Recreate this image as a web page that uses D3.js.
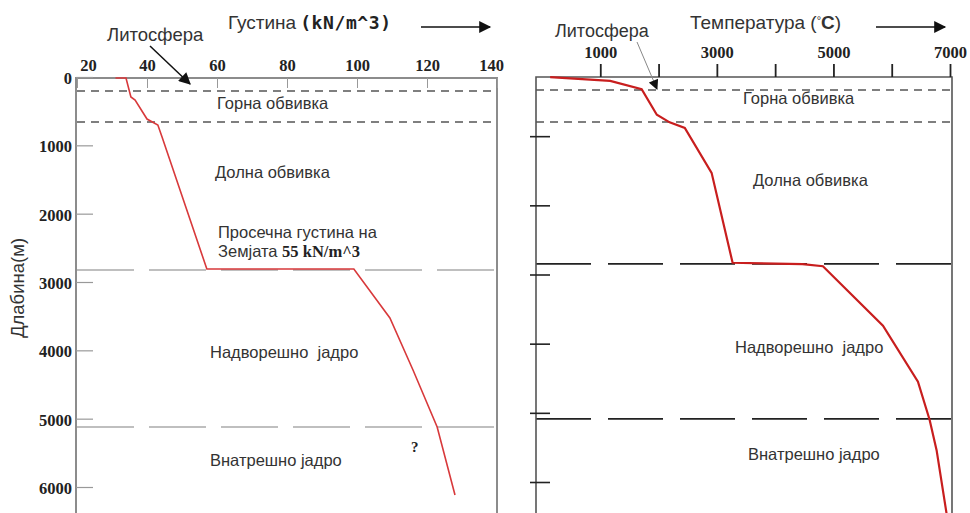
<!DOCTYPE html>
<html>
<head>
<meta charset="utf-8">
<script src="https://cdn.jsdelivr.net/npm/d3@7"></script>
<style>
  body { margin: 0; background: #fff; }
  svg { display: block; }
  .lbl { font-family: "Liberation Sans", Arial, sans-serif; fill: #333; }
  .num { font-family: "Liberation Serif", "Times New Roman", serif; font-weight: bold; fill: #222; }
</style>
</head>
<body>
<div id="vis"></div>
<script>
// density panel (kN/m^3 vs depth)
var densityValue = [31, 34, 35.4, 36.6, 40, 43.1, 44.3, 57.1, 99.1, 109.4, 116, 122.9, 128];
var densityDepth = [15, 15, 293, 337, 615, 702, 878, 2810, 2810, 3527, 4288, 5122, 6117];
var densityTicks = [20, 40, 60, 80, 100, 120, 140];
var depthTicks = [0, 1000, 2000, 3000, 4000, 5000, 6000];
var leftLayers = [205, 659, 2825, 5122];

// temperature panel (°C vs depth)
var tempValue = [140, 1170, 1710, 1970, 2190, 2450, 2910, 3270, 4470, 4820, 5850, 6450, 6650, 6770, 6940];
var tempDepth = [145, 200, 320, 690, 800, 880, 1530, 2830, 2850, 2880, 3740, 4550, 5100, 5540, 6450];
var tempTicks = [1000, 2000, 3000, 4000, 5000, 6000, 7000];
var rightDepthTicks = [1000, 2000, 3000, 4000, 5000, 6000];
var rightLayers = [332, 795, 2847, 5087];

var width = 970, height = 513;

var svg = d3.select('#vis').append('svg')
            .attr('width', width)
            .attr('height', height);

var defs = svg.append('defs');
defs.append('marker')
    .attr('id', 'head')
    .attr('viewBox', '0 0 10 10')
    .attr('refX', 9).attr('refY', 5)
    .attr('markerWidth', 11).attr('markerHeight', 10)
    .attr('markerUnits', 'userSpaceOnUse')
    .attr('orient', 'auto')
    .append('path').attr('d', 'M0,0 L10,5 L0,10 Z').attr('fill', '#111');
defs.append('marker')
    .attr('id', 'headBig')
    .attr('viewBox', '0 0 10 10')
    .attr('refX', 9).attr('refY', 5)
    .attr('markerWidth', 14).attr('markerHeight', 12)
    .attr('markerUnits', 'userSpaceOnUse')
    .attr('orient', 'auto')
    .append('path').attr('d', 'M0,0 L10,5 L0,10 Z').attr('fill', '#111');

// ---------- left panel ----------
var xL = d3.scaleLinear().domain([20, 140]).range([77, 497]);
var yL = d3.scaleLinear().domain([0, 6000]).range([77, 487]);

var left = svg.append('g');

// layer boundaries
left.selectAll('.layer')
    .data(leftLayers)
    .enter().append('line')
    .attr('x1', 77).attr('x2', 497)
    .attr('y1', (d) => yL(d)).attr('y2', (d) => yL(d))
    .attr('stroke', (d, i) => i < 2 ? '#555' : '#aaa')
    .attr('stroke-width', 1.5)
    .attr('stroke-dasharray', (d, i) => i < 2 ? '8,6' : '57,15');

// frame
left.append('path')
    .attr('d', 'M76,513 L76,78 L497,78 L497,513')
    .attr('fill', 'none')
    .attr('stroke', '#8c8c8c')
    .attr('stroke-width', 2);

var xAxisL = d3.axisTop(xL).tickValues(densityTicks).tickSize(-10).tickPadding(7);
var gxL = left.append('g').attr('transform', 'translate(0,78)').call(xAxisL);
gxL.select('.domain').remove();
gxL.selectAll('line').attr('stroke', '#999');
gxL.selectAll('text').attr('class', 'num').style('font-size', '16.5px')
   .attr('dx', (d) => d === 20 ? 11 : (d === 140 ? -6 : 0));

var yAxisL = d3.axisLeft(yL).tickValues(depthTicks).tickSize(-17).tickPadding(4)
    .tickFormat(d3.format('d'));
var gyL = left.append('g').attr('transform', 'translate(76,0)').call(yAxisL);
gyL.select('.domain').remove();
gyL.selectAll('line').attr('stroke', '#999').attr('stroke-width', 1.2);
gyL.selectAll('text').attr('class', 'num').style('font-size', '16.5px').attr('dy', '0.4em');

var lineL = d3.line()
    .x((d) => xL(d[0]))
    .y((d) => yL(d[1]));
left.append('path')
    .datum(d3.zip(densityValue, densityDepth))
    .attr('d', lineL)
    .attr('fill', 'none')
    .attr('stroke', '#d8393b')
    .attr('stroke-width', 1.6);

// texts
left.append('text').attr('class', 'lbl').attr('x', 228).attr('y', 29)
    .style('font-size', '19px').text('Густина')
  .append('tspan').attr('dx', 4)
    .style('font-family', '"DejaVu Sans Mono", monospace').style('font-weight', 'bold')
    .style('font-size', '18px').style('letter-spacing', '0.6px').style('fill', '#222')
    .text('(kN/m^3)');
left.append('line').attr('x1', 421).attr('x2', 490).attr('y1', 27).attr('y2', 27)
    .attr('stroke', '#111').attr('stroke-width', 1.5).attr('marker-end', 'url(#headBig)');

left.append('text').attr('class', 'lbl').attr('x', 107).attr('y', 41)
    .style('font-size', '18.5px').text('Литосфера');
left.append('line').attr('x1', 150).attr('y1', 46).attr('x2', 190).attr('y2', 84)
    .attr('stroke', '#111').attr('stroke-width', 1.5).attr('marker-end', 'url(#headBig)');

var lt = [
  ['Горна обвивка', 217, 109],
  ['Долна обвивка', 215, 178],
  ['Просечна густина на', 218, 238],
  ['Надворешно  јадро', 210, 358],
  ['Внатрешно јадро', 210, 466]
];
left.selectAll('.lt').data(lt).enter().append('text')
    .attr('class', 'lbl').attr('x', (d) => d[1]).attr('y', (d) => d[2])
    .style('font-size', '16.5px').attr('xml:space', 'preserve')
    .text((d) => d[0]);
var avg = left.append('text').attr('class', 'lbl').attr('x', 218).attr('y', 257).style('font-size', '16.5px');
avg.append('tspan').text('Земјата ');
avg.append('tspan').attr('class', 'num').style('font-size', '16.5px').style('fill', '#222').text('55 kN/m^3');
left.append('text').attr('class', 'num').attr('x', 411).attr('y', 452).style('font-size', '15px').text('?');

left.append('text').attr('class', 'lbl')
    .attr('transform', 'translate(24,288) rotate(-90)')
    .attr('text-anchor', 'middle')
    .style('font-size', '18.5px')
    .text('Длабина(м)');

// ---------- right panel ----------
var xR = d3.scaleLinear().domain([0, 7000]).range([542, 950]);
var yR = d3.scaleLinear().domain([0, 6000]).range([67, 482]);

var right = svg.append('g');

right.selectAll('.layer')
    .data(rightLayers)
    .enter().append('line')
    .attr('x1', 536).attr('x2', 952)
    .attr('y1', (d) => yR(d)).attr('y2', (d) => yR(d))
    .attr('stroke', (d, i) => i < 2 ? '#555' : '#222')
    .attr('stroke-width', (d, i) => i < 2 ? 1.4 : 1.8)
    .attr('stroke-dasharray', (d, i) => i < 2 ? '8,6' : '55,17');

right.append('path')
    .attr('d', 'M536,513 L536,77 L952,77 L952,513')
    .attr('fill', 'none')
    .attr('stroke', '#555')
    .attr('stroke-width', 1.6);

var xAxisR = d3.axisTop(xR).tickValues(tempTicks).tickSize(13).tickPadding(6)
    .tickFormat((d) => (d / 1000) % 2 === 1 ? d : '');
var gxR = right.append('g').attr('transform', 'translate(0,77)').call(xAxisR);
gxR.select('.domain').remove();
gxR.selectAll('line').attr('stroke', '#222').attr('stroke-width', 1.8);
gxR.selectAll('text').attr('class', 'num').style('font-size', '16.5px');

var yAxisR = d3.axisLeft(yR).tickValues(rightDepthTicks).tickSize(-20).tickFormat('');
var gyR = right.append('g').attr('transform', 'translate(530,0)').call(yAxisR);
gyR.select('.domain').remove();
gyR.selectAll('line').attr('stroke', '#222').attr('stroke-width', 1.6);

var lineR = d3.line()
    .x((d) => xR(d[0]))
    .y((d) => yR(d[1]));
right.append('path')
    .datum(d3.zip(tempValue, tempDepth))
    .attr('d', lineR)
    .attr('fill', 'none')
    .attr('stroke', '#c81e1e')
    .attr('stroke-width', 2.2);

var tt = right.append('text').attr('class', 'lbl').attr('x', 690).attr('y', 29).style('font-size', '19px');
tt.append('tspan').text('Температура (');
tt.append('tspan').attr('dy', -5).style('font-size', '11px').text('°');
tt.append('tspan').attr('dy', 5).style('font-weight', 'bold').text('C');
tt.append('tspan').text(')');
right.append('line').attr('x1', 876).attr('x2', 945).attr('y1', 27).attr('y2', 27)
    .attr('stroke', '#111').attr('stroke-width', 1.5).attr('marker-end', 'url(#headBig)');

right.append('text').attr('class', 'lbl').attr('x', 555).attr('y', 37)
    .style('font-size', '18px').text('Литосфера');
right.append('line').attr('x1', 637).attr('y1', 42).attr('x2', 657).attr('y2', 89)
    .attr('stroke', '#888').attr('stroke-width', 1).attr('marker-end', 'url(#head)');

var rt = [
  ['Горна обвивка', 743, 104],
  ['Долна обвивка', 753, 186],
  ['Надворешно  јадро', 735, 353],
  ['Внатрешно јадро', 748, 460]
];
right.selectAll('.rt').data(rt).enter().append('text')
    .attr('class', 'lbl').attr('x', (d) => d[1]).attr('y', (d) => d[2])
    .style('font-size', '16.5px').attr('xml:space', 'preserve')
    .text((d) => d[0]);
</script>
</body>
</html>
